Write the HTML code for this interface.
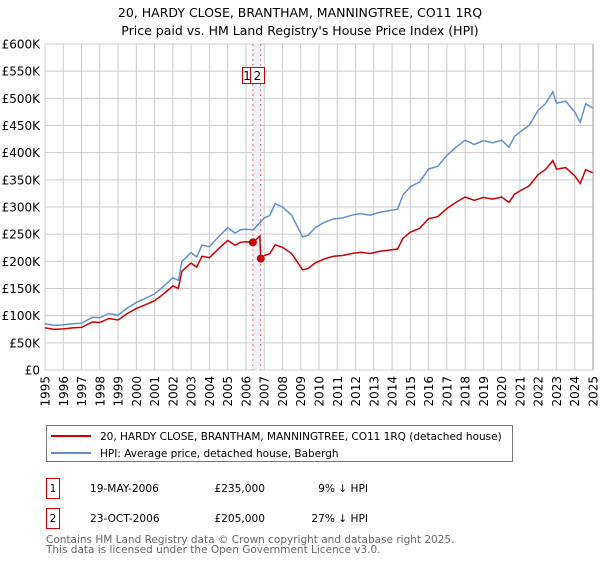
<!DOCTYPE html>
<html><head><meta charset="utf-8"><style>
body{margin:0;background:#fff;font-family:"Liberation Sans","DejaVu Sans",sans-serif;}
svg text{font-family:"DejaVu Sans","Liberation Sans",sans-serif;}
</style></head><body>
<svg id="chart" width="600" height="560" viewBox="0 0 600 560" xmlns="http://www.w3.org/2000/svg">
<text x="300" y="17" text-anchor="middle" font-size="12.5" fill="#000">20, HARDY CLOSE, BRANTHAM, MANNINGTREE, CO11 1RQ</text>
<text x="300" y="35" text-anchor="middle" font-size="12.5" fill="#000">Price paid vs. HM Land Registry's House Price Index (HPI)</text>
<g id="grid"></g>
<g id="marks"></g>
<g id="axes"></g>
<g>
<rect x="46.5" y="425.5" width="466" height="36" fill="#fff" stroke="#777"/>
<line x1="51" y1="436" x2="91" y2="436" stroke="#cc0000" stroke-width="2"/>
<text x="100" y="440" font-size="10.5">20, HARDY CLOSE, BRANTHAM, MANNINGTREE, CO11 1RQ (detached house)</text>
<line x1="51" y1="453" x2="91" y2="453" stroke="#6090d0" stroke-width="2"/>
<text x="100" y="457" font-size="10.5">HPI: Average price, detached house, Babergh</text>
</g>
<g font-size="10.6">
<rect x="46.5" y="478.5" width="13" height="20" fill="#fff" stroke="#cc0000"/>
<text x="53" y="492" text-anchor="middle">1</text>
<text x="90" y="492">19-MAY-2006</text>
<text x="265" y="492" text-anchor="end">£235,000</text>
<text x="368" y="492" text-anchor="end">9% ↓ HPI</text>
<rect x="46.5" y="508.5" width="13" height="20" fill="#fff" stroke="#cc0000"/>
<text x="53" y="522" text-anchor="middle">2</text>
<text x="90" y="522">23-OCT-2006</text>
<text x="265" y="522" text-anchor="end">£205,000</text>
<text x="368" y="522" text-anchor="end">27% ↓ HPI</text>
</g>
<text x="46" y="543" font-size="10.5" fill="#666">Contains HM Land Registry data © Crown copyright and database right 2025.</text>
<text x="46" y="553" font-size="10.5" fill="#666">This data is licensed under the Open Government Licence v3.0.</text>
</svg>
<script>
const hpiYears=[1995,1995.5,1996,1996.5,1997,1997.6,1998,1998.5,1999,1999.5,2000,2000.5,2001,2001.5,2002,2002.3,2002.5,2003,2003.3,2003.6,2004,2004.5,2005,2005.4,2005.7,2006,2006.4,2006.8,2007,2007.3,2007.6,2008,2008.5,2008.8,2009.1,2009.4,2009.8,2010.3,2010.8,2011.3,2011.8,2012.3,2012.8,2013.3,2013.8,2014.3,2014.6,2015,2015.5,2016,2016.5,2017,2017.5,2018,2018.5,2019,2019.5,2020,2020.4,2020.7,2021,2021.5,2022,2022.4,2022.8,2023,2023.5,2024,2024.3,2024.6,2025];
const hpiValues=[85,82,83,85,86,97,96,104,101,114,124,132,140,154,170,165,200,216,208,230,227,245,262,252,258,259,258,272,280,284,306,300,285,265,245,248,262,272,278,280,285,288,285,290,293,296,322,337,346,370,375,395,410,423,415,422,418,423,410,430,438,450,478,490,512,491,495,475,456,490,482];
const saleYears=[2006.38,2006.81];
const salePrices=[235,205];
const saleLabels=["1","2"];
const yTicks=[0,50,100,150,200,250,300,350,400,450,500,550,600];
const yTickLabels=["£0","£50K","£100K","£150K","£200K","£250K","£300K","£350K","£400K","£450K","£500K","£550K","£600K"];
const xTicks=[1995,1996,1997,1998,1999,2000,2001,2002,2003,2004,2005,2006,2007,2008,2009,2010,2011,2012,2013,2014,2015,2016,2017,2018,2019,2020,2021,2022,2023,2024,2025];

const X0=45,X1=593,Y0=370,Y1=44;
const xs=y=>X0+(y-1995)/30*(X1-X0);
const ys=v=>Y0-v/600*(Y0-Y1);
const NS="http://www.w3.org/2000/svg";
function mk(parent,tag,attrs){const e=document.createElementNS(NS,tag);for(const k in attrs)e.setAttribute(k,attrs[k]);document.getElementById(parent).appendChild(e);return e;}
function interp(y){for(let i=0;i<hpiYears.length-1;i++){if(y>=hpiYears[i]&&y<=hpiYears[i+1]){const t=(y-hpiYears[i])/(hpiYears[i+1]-hpiYears[i]);return hpiValues[i]+t*(hpiValues[i+1]-hpiValues[i]);}}return hpiValues[hpiValues.length-1];}

yTicks.forEach((v,i)=>{
 const l=mk('grid','line',{x1:X0,x2:X1,y1:ys(v),y2:ys(v),stroke:'#cccccc','stroke-width':1});
 
 
 const t=mk('axes','text',{x:40,y:ys(v)+4.5,'text-anchor':'end','font-size':12});
 t.textContent=yTickLabels[i];
 
 
});
xTicks.forEach(yr=>{
 const l=mk('grid','line',{x1:xs(yr),x2:xs(yr),y1:Y1,y2:Y0,stroke:'#cccccc','stroke-width':1});
 
 
 const t=mk('axes','text',{x:0,y:0,'font-size':12,'text-anchor':'end',transform:`translate(${xs(yr)+4.5},${376}) rotate(-90)`});
 t.textContent=yr;
 
 
});
const band=mk('marks','rect',{x:xs(saleYears[0]),y:Y1,width:xs(saleYears[1])-xs(saleYears[0]),height:Y0-Y1,fill:'#e8eefa',opacity:0.8});


saleYears.forEach(sy=>{
 const l=mk('marks','line',{x1:xs(sy),x2:xs(sy),y1:Y1,y2:Y0,stroke:'#ff6666','stroke-width':1,'stroke-dasharray':'2,3'});
 
 
});
let d=hpiYears.map((y,i)=>(i?'L':'M')+xs(y).toFixed(1)+','+ys(hpiValues[i]).toFixed(1)).join('');
const hp=mk('marks','path',{d:d,fill:'none',stroke:'#6090d0','stroke-width':1.5});


const f1=salePrices[0]/interp(saleYears[0]), f2=salePrices[1]/interp(saleYears[1]);
const pts=[];
hpiYears.forEach((y,i)=>{
 if(y<saleYears[1]) pts.push([y,hpiValues[i]*f1]);
 if(y>=saleYears[1]) { if(pts.length&&pts[pts.length-1][0]<saleYears[1]){pts.push([saleYears[1]-0.05,interp(saleYears[1]-0.05)*f1]);pts.push([saleYears[1],salePrices[1]]);} pts.push([y,hpiValues[i]*f2]); }
});
const pp=mk('marks','path',{d:pts.map((p,i)=>(i?'L':'M')+xs(p[0]).toFixed(1)+','+ys(p[1]).toFixed(1)).join(''),fill:'none',stroke:'#cc0000','stroke-width':1.5});


saleYears.forEach((sy,i)=>{
 const c=mk('marks','circle',{cx:xs(sy),cy:ys(salePrices[i]),r:4,fill:'#cc0000'});
 
 
});
const bx=[[242,250],[250,264]];
saleLabels.forEach((s,i)=>{
 const r=mk('marks','rect',{x:bx[i][0]+0.5,y:67.5,width:bx[i][1]-bx[i][0],height:16,fill:'#fff',stroke:'#cc0000'});
 
 
});
saleLabels.forEach((s,i)=>{
 const t=mk('marks','text',{x:i===0?247:257.5,y:80,'text-anchor':'middle','font-size':12});
 t.textContent=s;
 
 
});
const rb=mk('axes','line',{x1:X1,x2:X1,y1:Y1,y2:Y0,stroke:'#999','stroke-width':1});


</script>
</body></html>
